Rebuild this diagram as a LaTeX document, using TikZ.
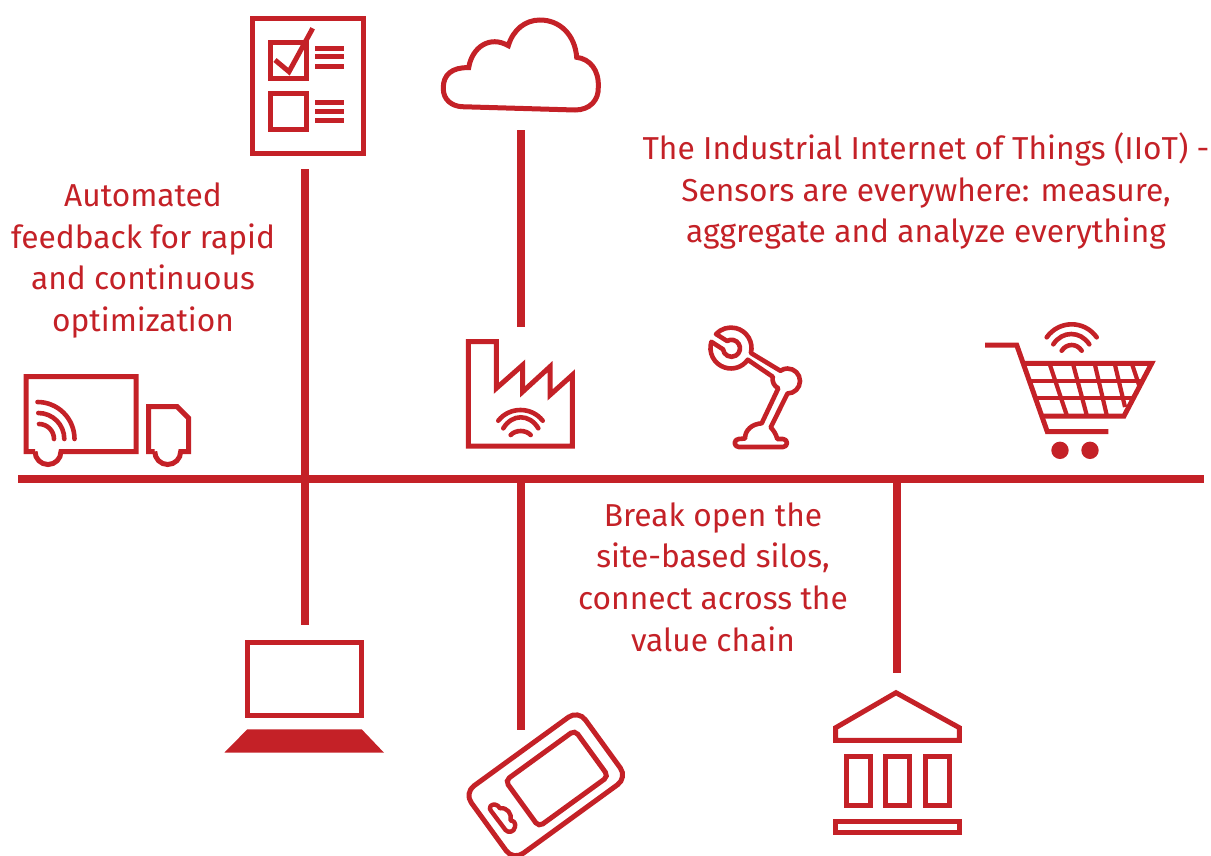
\documentclass[tikz,border=0pt]{standalone}
\usepackage{fontspec}
\setmainfont{Fira Sans}
\definecolor{brand}{HTML}{C42127}
\newcommand{\wifiarc}[4]{\draw[wifiline] (#1,#3) .. controls ({#1+(#2-#1)*.25},{#3+(#4-#3)*4/3}) and ({#2-(#2-#1)*.25},{#3+(#4-#3)*4/3}) .. (#2,#3);}
\tikzset{
  icon/.style={draw=brand,line width=5pt,line join=miter,fill=none},
  wifiline/.style={draw=brand,line width=4.6pt,line cap=round},
  bar/.style={draw=brand,line width=8pt},
  hatch/.style={draw=brand,line width=4.2pt},
  caption/.style={text=brand,align=center,font=\fontsize{31.7}{41.8}\selectfont,inner sep=0pt},
}
\begin{document}
\begin{tikzpicture}[x=1pt,y=-1pt]
\useasboundingbox (0,0) rectangle (1211,855);
% junctions and free ends
\coordinate (lineL) at (18,479);
\coordinate (lineR) at (1204,479);
\coordinate (j1) at (305,479);
\coordinate (j2) at (521,479);
\coordinate (j3) at (897,479);
\coordinate (checkEnd) at (305,169);
\coordinate (laptopEnd) at (305,625);
\coordinate (cloudEnd) at (521,130);
\coordinate (factoryEnd) at (521,327);
\coordinate (tabletEnd) at (521,730);
\coordinate (bankEnd) at (897,673);
\draw[bar] (lineL) -- (lineR);
\draw[bar] (checkEnd) -- (laptopEnd);
\draw[bar] (j2) -- (tabletEnd);
\draw[bar] (cloudEnd) -- (factoryEnd);
\draw[bar] (j3) -- (bankEnd);
% truck
\draw[icon] (35,451.5) -- (26,451.5) -- (26,376.5) -- (136,376.5) -- (136,451.5) -- (61,451.5) arc[start angle=0,end angle=180,radius=13];
\draw[icon] (154.7,451.5) -- (148.5,451.5) -- (148.5,406.5) -- (177,406.5) -- (188.5,418) -- (188.5,451.5) -- (180.7,451.5) arc[start angle=0,end angle=180,radius=13];
\draw[wifiline] (37.5,402) arc[start angle=-90,end angle=0,radius=37];
\draw[wifiline] (38.3,413) arc[start angle=-90,end angle=0,radius=26];
\draw[wifiline] (39,424) arc[start angle=-90,end angle=0,radius=15];
% checklist
\draw[icon] (252.5,18.5) rectangle (363,153.5);
\draw[icon] (270.5,42.5) rectangle (306,78);
\draw[icon] (270.5,93.5) rectangle (306,129);
\draw[icon] (275,60) -- (289,71.7) -- (312.7,28.3);
\foreach \yy in {48.3,56.8,66.3,102.3,111.3,120.3}{\draw[icon] (315,\yy) -- (344,\yy);}
% cloud
\draw[icon] (461.7,106.7) -- (575,110) .. controls (590,110) and (599,100) .. (598.3,86.7)
  .. controls (599,70) and (590,59) .. (576.7,57.3)
  .. controls (575,35) and (560,20) .. (540,20)
  .. controls (525,20) and (513,30) .. (508.3,45.7)
  .. controls (490,35) and (472,47) .. (468.7,67.7)
  .. controls (452,67) and (443,75) .. (443.3,88)
  .. controls (443,100) and (452,106) .. (461.7,106.7) -- cycle;
% factory
\draw[icon] (468.3,446) -- (468.3,341.7) -- (496.3,341.7) -- (496.3,388.3) -- (522.7,365) -- (522.7,391.7) -- (550,366.7) -- (550,395) -- (572.3,375) -- (572.3,446) -- cycle;
\wifiarc{498.3}{542.7}{420.7}{410}
\wifiarc{503.3}{538.3}{428.3}{417.3}
\wifiarc{510.7}{530.7}{435}{431}
% robot arm
\draw[icon,line width=4.6pt,line join=round] (711.4,341.8) arc[start angle=197.5,end angle=35,radius=20.5]
  -- (772.7,376.7) .. controls (772,382) and (774,386) .. (778.3,388.3)
  -- (761.7,423.3) .. controls (752,424) and (745,430) .. (745,438.5)
  -- (738.7,439) arc[start angle=-90,end angle=-270,radius=4] -- (783,447) arc[start angle=90,end angle=-90,radius=4] -- (777.3,439)
  .. controls (776,434) and (774,431) .. (770.7,427.3)
  -- (787.5,393.5) arc[start angle=90,end angle=-125,radius=12.5]
  -- (750.9,353) arc[start angle=14,end angle=-137,radius=20.5]
  -- (727.1,341) arc[start angle=239,end angle=533,radius=8.5] -- cycle;
% cart
\draw[icon] (985,345) -- (1016.7,345) -- (1047.3,431.7) -- (1108.3,431.7);
\draw[icon] (1023,363.3) -- (1151.7,363.3) -- (1124,416) -- (1042,416);
\draw[hatch] (1029.4,381) -- (1142.4,381);
\draw[hatch] (1035.5,398.3) -- (1133.3,398.3);
\draw[hatch] (1050,365) -- (1066.7,415);
\draw[hatch] (1073.3,365) -- (1086.7,415);
\draw[hatch] (1095,365) -- (1106.7,415);
\draw[hatch] (1115,365) -- (1125,407);
\draw[hatch] (1132.3,365) -- (1140,388);
\fill[brand] (1060,450.3) circle[radius=8.7];
\fill[brand] (1090,450.3) circle[radius=8.7];
\wifiarc{1046.7}{1096.7}{337.3}{324.3}
\wifiarc{1053.3}{1089.3}{344.3}{334}
\wifiarc{1061.7}{1081.7}{350.7}{345}
% laptop
\draw[icon] (247.7,642.3) rectangle (361,715.3);
\fill[brand] (247.3,729.3) -- (361.7,729.3) -- (384,752.7) -- (224.3,752.7) -- cycle;
% tablet
\begin{scope}
\clip (440,700) rectangle (640,855);
\draw[icon,rounded corners=12pt,rotate around={36:(545.8,785.3)}] (475.3,743.5) rectangle (616.3,827);
\draw[icon,rounded corners=5pt,rotate around={36:(556.8,778.5)}] (513.8,750) rectangle (599.8,807);
\draw[icon,line width=4.4pt,line join=round] (491.5,811.5) -- (505.5,830)
  .. controls (508,833) and (514,832.5) .. (515,827)
  .. controls (516,823) and (513.5,820.5) .. (510.5,820.5)
  .. controls (512.5,814) and (507,807) .. (500,808.3)
  .. controls (497.5,804) and (493,803.5) .. (490.5,806)
  .. controls (489,808) and (490,810) .. (491.5,811.5) -- cycle;
\end{scope}
% bank
\draw[icon] (835.7,740.3) -- (835.7,727.7) -- (896,692.7) -- (959.3,727.7) -- (959.3,740.3) -- cycle;
\draw[icon] (846,756.3) rectangle (870,805.3);
\draw[icon] (885.7,756.3) rectangle (909.7,805.3);
\draw[icon] (925,756.3) rectangle (949,805.3);
\draw[icon] (835.7,821.3) rectangle (959.3,832);
% captions
\node[caption] (feedback) at (143,260.5) {Automated\\feedback for rapid\\and continuous\\optimization};
\node[caption] (iiot) at (926,191) {The Industrial Internet of Things (IIoT) -\\Sensors are everywhere: measure,\\aggregate and analyze everything};
\node[caption] (silos) at (713,577) {Break open the\\site-based silos,\\connect across the\\value chain};
\end{tikzpicture}
\end{document}
